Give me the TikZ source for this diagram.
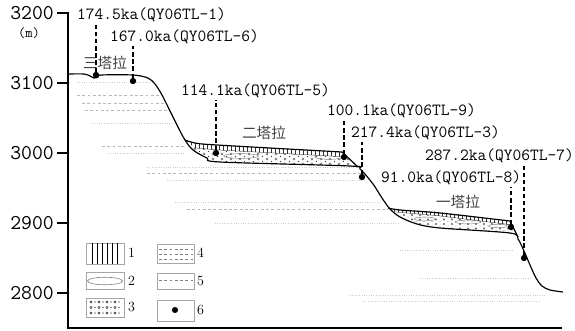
\documentclass[tikz,border=0pt]{standalone}
\usepackage{fontspec}
\newfontfamily\cjk{Noto Sans CJK SC}

\tikzset{
	agelab/.style={anchor=west, inner sep=0pt, font=\ttfamily\fontsize{14.5}{14.5}\selectfont},
	axislab/.style={anchor=east, inner sep=0pt, font=\ttfamily\fontsize{18}{18}\selectfont},
	place/.style={inner sep=0pt, font=\cjk\fontsize{12.5}{12.5}\selectfont, text=black!75},
	sample/.style={shape=circle, fill=black, inner sep=0pt, minimum size=0.19cm},
	tie/.style={dash pattern=on 3.5pt off 2.5pt, line width=0.9pt, shorten >=1.5pt},
	ground/.style={line width=1pt},
	faint/.style={gray!40, line width=0.4pt, dash pattern=on 0.6pt off 1.4pt},
	faintdash/.style={gray!55, line width=0.4pt, dash pattern=on 2.5pt off 2pt},
	legbox/.style={draw=gray!70, line width=0.5pt},
	legnum/.style={anchor=west, inner sep=0pt, font=\fontsize{12}{12}\selectfont},
}

\begin{document}
\begin{tikzpicture}[x=0.03cm, y=-0.03cm]
	\useasboundingbox (0,0) rectangle (575,331);

	% faint level lines
	\draw[faint]     (77,82)  -- (150,82);
	\draw[faintdash] (77,95)  -- (160,95);
	\draw[faintdash] (82,103) -- (165,103);
	\draw[faintdash] (85,110) -- (168,110);
	\draw[faint]     (92,123) -- (175,123);
	\draw[faintdash] (102,146) -- (185,146);
	\draw[faint]     (108,153) -- (185,153);
	\draw[faint]     (147,167) -- (358,167);
	\draw[faintdash] (147,173) -- (362,173);
	\draw[faint]     (167,180) -- (366,180);
	\draw[faint]     (175,202) -- (380,202);
	\draw[faintdash] (187,209) -- (388,209);
	\draw[faint]     (215,223) -- (400,223);
	\draw[faint]     (400,250) -- (513,250);
	\draw[faint]     (420,278) -- (530,278);
	\draw[faint]     (350,295) -- (545,295);
	\draw[faint]     (363,301) -- (540,301);

	% middle terrace fill
	\begin{scope}
		\clip (185,140) -- (195,143) -- (217,145) -- (342,152) -- (358,167) -- (340,165) -- (230,162)
			-- (220,162) -- (207,158) -- (193,150) -- cycle;
		\foreach \y in {149,154,...,168}
			\foreach \x in {186,195,...,362} {
				\draw[black!70, line width=0.3pt] (\x,\y) circle (0.9pt);
				\fill[black!80] (\x+4.5,\y+2.5) circle (0.45pt);
			}
		\draw[gray, line width=0.4pt] (241,156) ellipse [x radius=15pt, y radius=2pt];
		\draw[gray, line width=0.4pt] (329,157) ellipse [x radius=12pt, y radius=2pt];
		\fill[white] (185,140) -- (195,143) -- (217,145) -- (342,152) -- (346,157) -- (217,150) -- (195,148) -- cycle;
		\clip (185,140) -- (195,143) -- (217,145) -- (342,152) -- (346,157) -- (217,150) -- (195,148) -- cycle;
		\foreach \x in {187,191,...,356}
			\draw[black!80, line width=0.3pt] (\x,135) -- (\x,160);
		\draw[line width=0.4pt] (188,145) -- (195,148) -- (217,150) -- (346,157);
	\end{scope}

	% lower terrace fill
	\begin{scope}
		\clip (388,208) -- (400,210) -- (440,212) -- (510,221) -- (518,236) -- (510,233) -- (440,228)
			-- (417,224) -- (400,217) -- cycle;
		\foreach \y in {215,219.5,...,232}
			\foreach \x in {388,396,...,520} {
				\draw[black!70, line width=0.3pt] (\x,\y) circle (0.8pt);
				\fill[black!80] (\x+4,\y+2) circle (0.4pt);
			}
		\draw[gray, line width=0.4pt] (425,219) ellipse [x radius=9pt, y radius=1.6pt];
		\draw[gray, line width=0.4pt] (468,222) ellipse [x radius=11pt, y radius=1.6pt];
		\draw[gray, line width=0.4pt] (498,226) ellipse [x radius=8pt, y radius=1.5pt];
		\fill[white] (388,208) -- (440,212) -- (510,221) -- (512,225) -- (440,216) -- (395,212) -- cycle;
		\clip (388,208) -- (440,212) -- (510,221) -- (512,225) -- (440,216) -- (395,212) -- cycle;
		\foreach \x in {390,394,...,512}
			\draw[black!80, line width=0.3pt] (\x,200) -- (\x,230);
		\draw[line width=0.4pt] (395,212) -- (440,216) -- (512,225);
	\end{scope}

	% bedrock profile and terrace surfaces
	\draw[ground] plot[smooth, tension=0.5] coordinates {(68,74) (84,74) (90,76) (94,78) (98,77) (101,75)
		(133,75) (148,78) (155,84) (162,95) (170,111) (178,127) (185,140) (193,150) (207,158) (220,162)
		(350,166) (360,169) (373,184) (382,198) (390,209) (400,217) (417,224) (440,228) (510,233)
		(518,239) (524,251) (530,265) (536,278) (542,286) (550,290) (563,292)};
	\draw[ground] plot[smooth, tension=0.5] coordinates {(185,140) (195,143) (217,145) (342,152)} -- (358,167);
	\draw[ground] plot[smooth, tension=0.5] coordinates {(388,208) (400,210) (440,213) (510,221)} -- (518,237);

	% axes
	\draw[line width=1.4pt] (68,12) -- (68,328) -- (562,328);
	\foreach \h/\y in {3200/13, 3100/83, 3000/153, 2900/223, 2800/293} {
		\draw[line width=1.4pt] (57,\y) -- (68,\y);
		\node[axislab] at (54,\y) {\h};
	}
	\node[inner sep=0pt, font=\ttfamily\fontsize{12}{12}\selectfont] (unit) at (29,33) {(m)};

	% place names
	\node[place] (t3) at (105,63)  {三塔拉};
	\node[place] (t2) at (264,133) {二塔拉};
	\node[place] (t1) at (458,202) {一塔拉};

	% samples
	\node[sample] (s1) at (96,75)   {};
	\node[sample] (s6) at (133,81)  {};
	\node[sample] (s5) at (216,153) {};
	\node[sample] (s9) at (344,157) {};
	\node[sample] (s3) at (362,177) {};
	\node[sample] (s8) at (511,227) {};
	\node[sample] (s7) at (524,258) {};

	\node[agelab] (l1) at (77,15)   {174.5ka(QY06TL-1)};
	\node[agelab] (l6) at (110,37)  {167.0ka(QY06TL-6)};
	\node[agelab] (l5) at (181,91)  {114.1ka(QY06TL-5)};
	\node[agelab] (l9) at (327,111) {100.1ka(QY06TL-9)};
	\node[agelab] (l3) at (351,133) {217.4ka(QY06TL-3)};
	\node[agelab] (l8) at (381,178) {91.0ka(QY06TL-8)};
	\node[agelab] (l7) at (425,156) {287.2ka(QY06TL-7)};

	\path[tie] (s1) edge (s1 |- l1.south);
	\path[tie] (s6) edge (s6 |- l6.south);
	\path[tie] (s5) edge (s5 |- l5.south);
	\path[tie] (s9) edge (s9 |- l9.south);
	\path[tie] (s3) edge (s3 |- l3.south);
	\path[tie] (s8) edge (s8 |- l8.south);
	\path[tie] (s7) edge (s7 |- l7.south);

	% legend
	\draw[legbox] (86,243) rectangle (124,264);
	\foreach \x in {92,97,...,117}
		\draw[line width=0.4pt] (\x,243) -- (\x,264);
	\draw[legbox] (86,272) rectangle (124,289);
	\draw[gray, line width=0.5pt] (105,281) ellipse [x radius=15pt, y radius=3.2pt];
	\draw[legbox] (86,298) rectangle (124,317);
	\foreach \y in {302,307.5,313}
		\foreach \x in {91,99,...,121} {
			\draw[line width=0.3pt] (\x,\y) circle (0.9pt);
			\fill (\x+4,\y) circle (0.5pt);
		}
	\draw[legbox] (157,244) rectangle (194,263);
	\foreach \y in {249,254,259}
		\draw[faintdash, gray] (159,\y) -- (193,\y);
	\draw[legbox] (157,273) rectangle (194,289);
	\draw[faintdash, gray] (159,280) -- (193,280);
	\draw[legbox] (157,300) rectangle (194,321);
	\fill (175,310) circle (2.6pt);

	\node[legnum] (n1) at (128,253) {1};
	\node[legnum] (n2) at (128,281) {2};
	\node[legnum] (n3) at (128,307) {3};
	\node[legnum] (n4) at (197,253) {4};
	\node[legnum] (n5) at (197,281) {5};
	\node[legnum] (n6) at (197,310) {6};
\end{tikzpicture}
\end{document}
